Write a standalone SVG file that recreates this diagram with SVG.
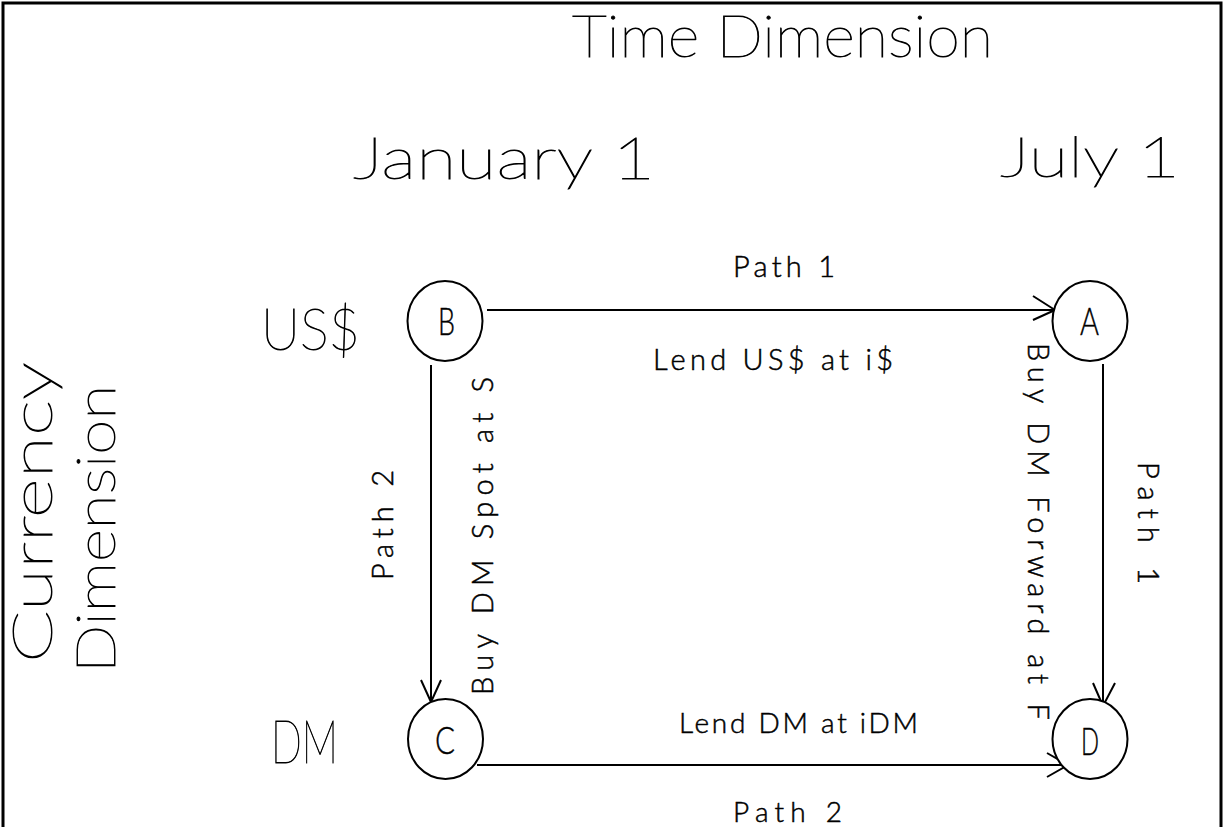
<svg xmlns="http://www.w3.org/2000/svg" width="1225" height="827" viewBox="0 0 1225 827">
  <style>
    .frame { fill: none; stroke: #000; stroke-width: 3; }
    .node { fill: #fff; stroke: #000; stroke-width: 2; }
    .edge { fill: none; stroke: #000; stroke-width: 2; }
    .big { font-family: Lato, "Liberation Sans", sans-serif; font-weight: 200; fill: #000; stroke: #000; stroke-width: 0.9; }
    .small { font-family: Lato, "Liberation Sans", sans-serif; font-weight: 300; fill: #000; stroke: #000; stroke-width: 0.5; }
    .letter { font-family: Lato, "Liberation Sans", sans-serif; font-weight: 300; fill: #000; stroke: #000; stroke-width: 0.4; text-anchor: middle; }
  </style>

  <rect width="1225" height="827" fill="#fff"/>
  <path class="frame" d="M3,827 V3 H1221 V827"/>

  <!-- headings -->
  <g id="headings">
    <text class="big" x="572" y="57" font-size="58" textLength="421" lengthAdjust="spacingAndGlyphs">Time Dimension</text>
    <text class="big" x="353" y="179" font-size="57" textLength="302" lengthAdjust="spacingAndGlyphs">January 1</text>
    <text class="big" x="1000" y="177" font-size="56" textLength="180" lengthAdjust="spacingAndGlyphs">July 1</text>
    <text class="big" x="261" y="350" font-size="58" textLength="99" lengthAdjust="spacingAndGlyphs">US$</text>
    <text class="big" x="271" y="763" font-size="60" textLength="67" lengthAdjust="spacingAndGlyphs">DM</text>
    <text class="big" transform="translate(52,663) rotate(-90)" font-size="55" textLength="301" lengthAdjust="spacingAndGlyphs">Currency</text>
    <text class="big" transform="translate(115,673) rotate(-90)" font-size="53" textLength="288" lengthAdjust="spacingAndGlyphs">Dimension</text>
  </g>

  <!-- connectors -->
  <g id="connectors">
    <path class="edge" d="M487,310 H1055 M1033,296 L1055,310 L1033,320"/>
    <path class="edge" d="M431,365 V702 M421,680 L431,702 L441,680"/>
    <path class="edge" d="M1103,364 V706 M1093,683 L1103,706 L1115,683"/>
    <path class="edge" d="M477,765 H1068 M1047,753 L1068,765 L1047,777"/>
  </g>

  <!-- connector labels -->
  <g id="labels">
    <text class="small" x="733" y="277" font-size="29" textLength="102" lengthAdjust="spacing">Path 1</text>
    <text class="small" x="653" y="370" font-size="29" textLength="240" lengthAdjust="spacing">Lend US$ at i$</text>
    <text class="small" x="679" y="733" font-size="28" textLength="239" lengthAdjust="spacing">Lend DM at iDM</text>
    <text class="small" x="733" y="822" font-size="28" textLength="109" lengthAdjust="spacing">Path 2</text>
    <text class="small" transform="translate(393,580) rotate(-90)" font-size="29" textLength="110" lengthAdjust="spacing">Path 2</text>
    <text class="small" transform="translate(493,695) rotate(-90)" font-size="29" textLength="318" lengthAdjust="spacing">Buy DM Spot at S</text>
    <text class="small" transform="translate(1028,343) rotate(90)" font-size="29" textLength="377" lengthAdjust="spacing">Buy DM Forward at F</text>
    <text class="small" transform="translate(1138,462) rotate(90)" font-size="29" textLength="122" lengthAdjust="spacing">Path 1</text>
  </g>

  <!-- nodes -->
  <g id="node-B">
    <ellipse class="node" cx="445" cy="321" rx="37.5" ry="40"/>
    <text class="letter" x="446.5" y="335" font-size="37" textLength="17" lengthAdjust="spacingAndGlyphs">B</text>
  </g>
  <g id="node-A">
    <ellipse class="node" cx="1090" cy="321" rx="37.5" ry="40"/>
    <text class="letter" x="1089.5" y="335" font-size="37" textLength="19" lengthAdjust="spacingAndGlyphs">A</text>
  </g>
  <g id="node-C">
    <ellipse class="node" cx="445.5" cy="739" rx="37.5" ry="40"/>
    <text class="letter" x="445" y="754" font-size="37" textLength="20" lengthAdjust="spacingAndGlyphs">C</text>
  </g>
  <g id="node-D">
    <ellipse class="node" cx="1090" cy="739" rx="37.5" ry="40"/>
    <text class="letter" x="1090" y="755" font-size="37" textLength="18" lengthAdjust="spacingAndGlyphs">D</text>
  </g>
</svg>
